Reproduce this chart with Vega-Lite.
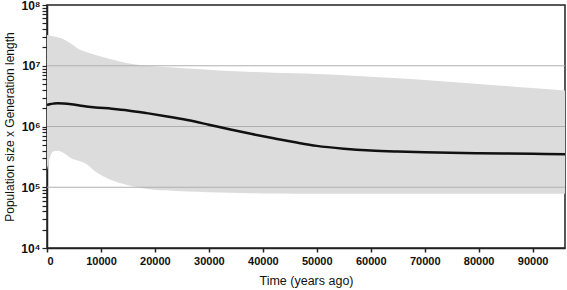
{
  "$schema": "https://vega.github.io/schema/vega-lite/v6.json",
  "width": 518,
  "height": 243,
  "autosize": "none",
  "padding": {"left": 47, "top": 5, "right": 2, "bottom": 42},
  "config": {
    "view": {"stroke": "#222222", "strokeWidth": 1.5},
    "font": "Liberation Sans",
    "axis": {"domainColor": "#222222", "domainWidth": 1.5, "tickColor": "#222222", "tickWidth": 1.5, "grid": false, "labelFont": "Liberation Sans", "labelFontWeight": "bold", "labelFontSize": 11, "labelColor": "#111111", "titleFont": "Liberation Sans", "titleFontWeight": "normal", "titleFontSize": 12.5, "titleColor": "#111111"}
  },
  "datasets": {
    "ne": [
      {"t": 0, "med": 2260000, "low": 190000, "up": 32000000},
      {"t": 500, "med": 2320000, "low": 300000, "up": 31500000},
      {"t": 1200, "med": 2380000, "low": 390000, "up": 30500000},
      {"t": 2000, "med": 2420000, "low": 400000, "up": 29500000},
      {"t": 3000, "med": 2400000, "low": 370000, "up": 27500000},
      {"t": 4500, "med": 2330000, "low": 300000, "up": 23000000},
      {"t": 6000, "med": 2220000, "low": 270000, "up": 18500000},
      {"t": 7000, "med": 2150000, "low": 250000, "up": 17200000},
      {"t": 9000, "med": 2060000, "low": 180000, "up": 15000000},
      {"t": 12000, "med": 1960000, "low": 130000, "up": 12700000},
      {"t": 15000, "med": 1840000, "low": 108000, "up": 11000000},
      {"t": 18500, "med": 1660000, "low": 94000, "up": 10000000},
      {"t": 22000, "med": 1480000, "low": 89000, "up": 9500000},
      {"t": 26000, "med": 1280000, "low": 85000, "up": 9000000},
      {"t": 30000, "med": 1070000, "low": 83000, "up": 8600000},
      {"t": 34000, "med": 890000, "low": 81000, "up": 8200000},
      {"t": 38000, "med": 750000, "low": 80000, "up": 7900000},
      {"t": 42000, "med": 640000, "low": 79000, "up": 7700000},
      {"t": 46000, "med": 550000, "low": 78500, "up": 7500000},
      {"t": 50000, "med": 480000, "low": 78000, "up": 7300000},
      {"t": 55000, "med": 432000, "low": 78000, "up": 6950000},
      {"t": 60000, "med": 403000, "low": 78000, "up": 6600000},
      {"t": 65000, "med": 387000, "low": 78000, "up": 6200000},
      {"t": 70000, "med": 376000, "low": 78000, "up": 5800000},
      {"t": 80000, "med": 364000, "low": 78000, "up": 5000000},
      {"t": 90000, "med": 355000, "low": 78000, "up": 4300000},
      {"t": 96000, "med": 348000, "low": 78000, "up": 3900000}
    ],
    "grid": [{"v": 100000}, {"v": 1000000}, {"v": 10000000}]
  },
  "layer": [
    {
      "data": {"name": "ne"},
      "mark": {"type": "area", "color": "#dcdcdc", "interpolate": "monotone"},
      "encoding": {
        "x": {"field": "t", "type": "quantitative", "scale": {"domain": [0, 96000], "nice": false, "zero": false},
          "axis": {"title": "Time (years ago)", "values": [0,5000,10000,15000,20000,25000,30000,35000,40000,45000,50000,55000,60000,65000,70000,75000,80000,85000,90000,95000], "format": "d", "labelExpr": "datum.value % 10000 == 0 ? datum.label : ''", "tickSize": 4, "labelPadding": 3, "titlePadding": 8}},
        "y": {"field": "low", "type": "quantitative", "scale": {"type": "log", "domain": [10000, 100000000], "nice": false},
          "axis": {"title": "Population size x Generation length", "values": [10000,20000,30000,40000,50000,60000,70000,80000,90000,100000,200000,300000,400000,500000,600000,700000,800000,900000,1000000,2000000,3000000,4000000,5000000,6000000,7000000,8000000,9000000,10000000,20000000,30000000,40000000,50000000,60000000,70000000,80000000,90000000,100000000],
            "labelExpr": "datum.value == 10000 ? '10⁴' : datum.value == 100000 ? '10⁵' : datum.value == 1000000 ? '10⁶' : datum.value == 10000000 ? '10⁷' : datum.value == 100000000 ? '10⁸' : ''",
            "labelFontSize": 12,
            "tickSize": 5,
            "tickWidth": 1.2,
            "labelPadding": 2, "titlePadding": 4, "titleFontSize": 12}},
        "y2": {"field": "up"}
      }
    },
    {
      "data": {"name": "grid"},
      "mark": {"type": "rule", "color": "#b0b0b0", "strokeWidth": 1},
      "encoding": {"y": {"field": "v", "type": "quantitative"}}
    },
    {
      "data": {"name": "ne"},
      "mark": {"type": "line", "color": "#111111", "strokeWidth": 2.5, "interpolate": "monotone"},
      "encoding": {
        "x": {"field": "t", "type": "quantitative"},
        "y": {"field": "med", "type": "quantitative"}
      }
    }
  ]
}
